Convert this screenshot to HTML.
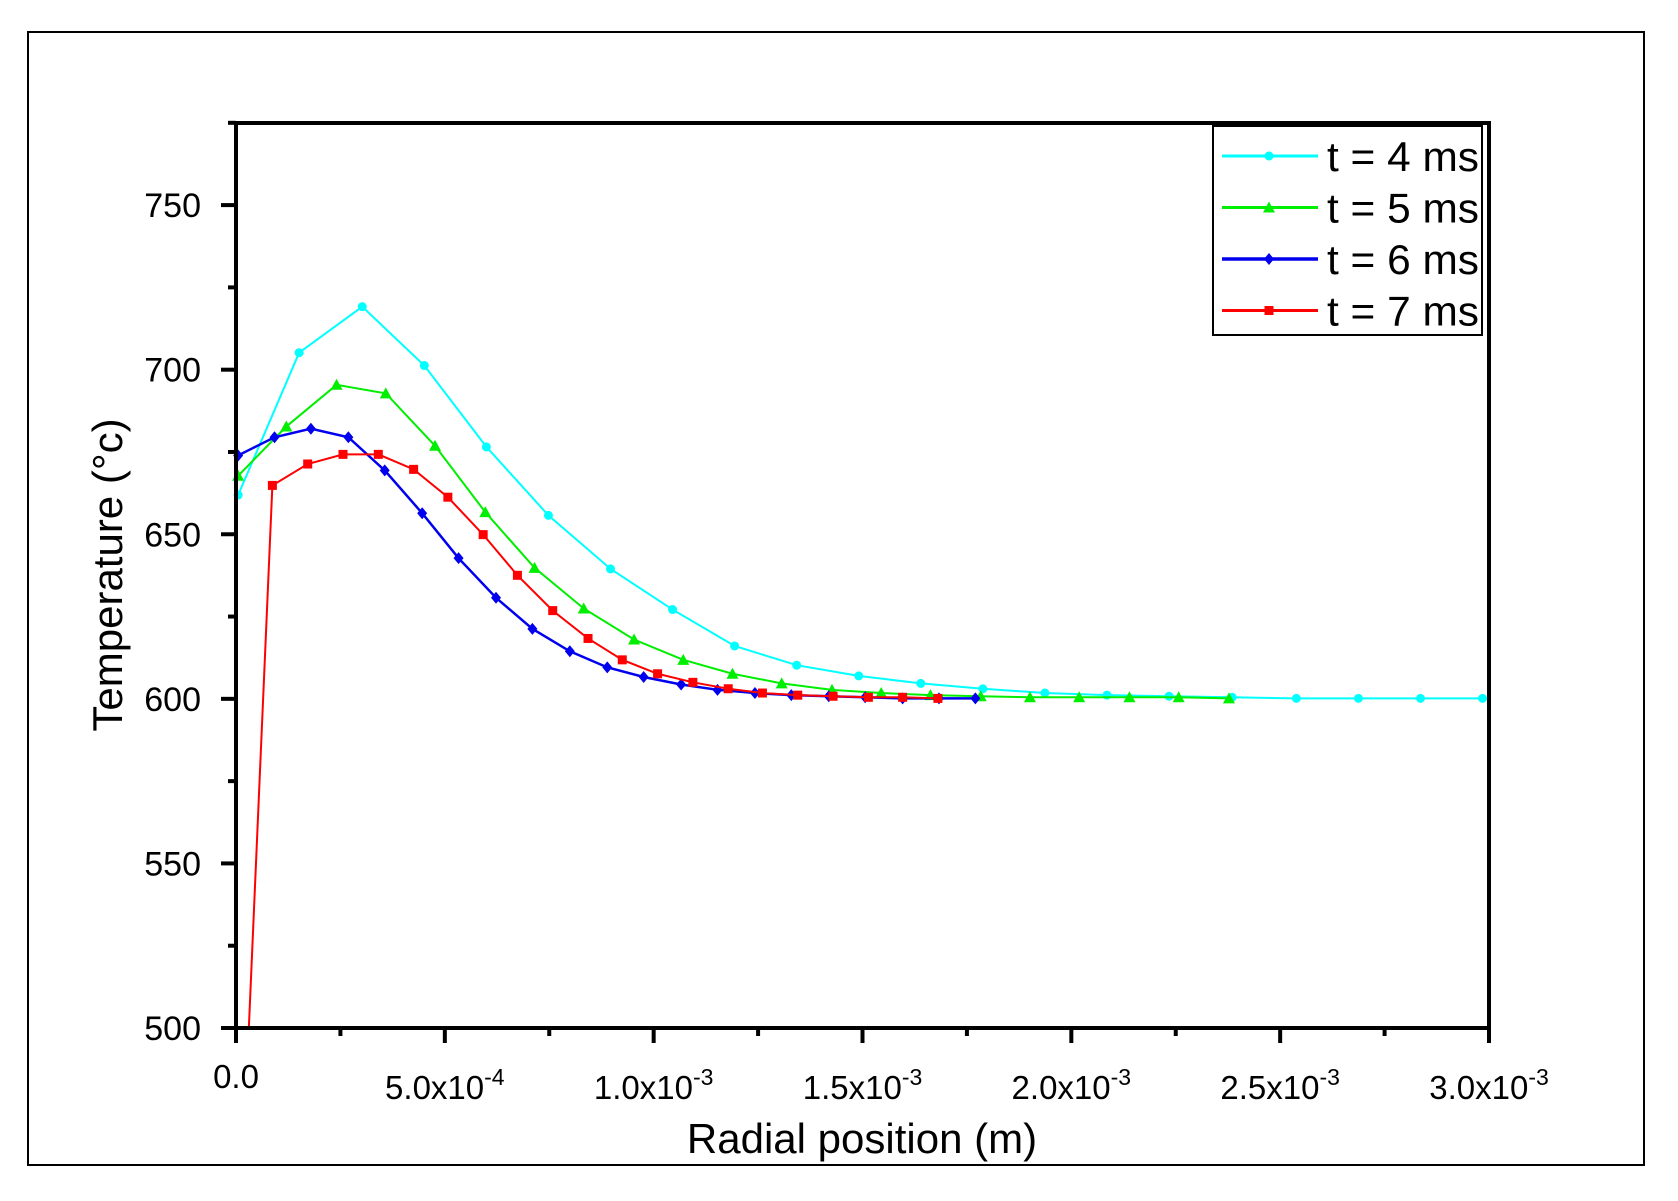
<!DOCTYPE html>
<html><head><meta charset="utf-8"><style>
html,body{margin:0;padding:0;background:#fff;}
svg{display:block;font-family:"Liberation Sans",Arial,sans-serif;}
</style></head><body>
<svg id="s" width="1678" height="1201" viewBox="0 0 1678 1201" xmlns="http://www.w3.org/2000/svg">
<rect x="0" y="0" width="1678" height="1201" fill="#fff"/>
<rect x="28" y="32" width="1616" height="1133" fill="none" stroke="#000" stroke-width="2"/>
<g id="plot"></g>
<g id="axes"></g>
<text x="862" y="1153" font-size="42" text-anchor="middle">Radial position (m)</text>
<text transform="translate(122,575) rotate(-90)" font-size="42" text-anchor="middle">Temperature (°c)</text>
<g id="legend">
<rect x="1213" y="126" width="269" height="209" fill="#fff" stroke="#000" stroke-width="2"/>
</g>
</svg>
<script>
var NS="http://www.w3.org/2000/svg";
function el(p,t,a,txt){var e=document.createElementNS(NS,t);for(var k in a)e.setAttribute(k,a[k]);if(txt!==undefined)e.textContent=txt;p.appendChild(e);return e;}
var plot=document.getElementById('plot'),axes=document.getElementById('axes'),leg=document.getElementById('legend');
function X(dx){return 236+(dx-219)*1.070;}
function Y(dy){return 1028-(960-dy)*1.0702;}
var series=[
{c:'#00ffff',m:'circle',w:2,pts:[[221,462],[278,329],[337,286],[395,341],[453,417],[511,481],[569,531],[627,569],[685,603],[743,621],[801,631],[859,638],[917,643],[975,647],[1033,649],[1091,650],[1150,651],[1210,652],[1268,652],[1326,652],[1384,652]]},
{c:'#00ee00',m:'tri',w:2,pts:[[221,444],[266,398],[313,359],[359,367],[405,416],[452,478],[498,530],[544,568],[591,597],[637,616],[683,629],[729,638],[776,644],[822,647],[868,649],[915,650],[961,651],[1007,651],[1054,651],[1100,651],[1147,652]]},
{c:'#0000ee',m:'dia',w:2.5,pts:[[221,425],[255,408],[289,400],[324,408],[358,439],[393,479],[427,521],[462,558],[496,587],[531,608],[566,623],[600,632],[635,639],[669,644],[704,647],[738,649],[773,650],[807,651],[842,652],[876,652],[910,652]]},
{c:'#ff0000',m:'sq',w:2,pts:[[231,962],[253,453],[286,433],[319,424],[352,424],[385,438],[417,464],[450,499],[482,537],[515,570],[548,596],[580,616],[613,629],[646,637],[679,643],[711,647],[744,649],[777,650],[810,651],[842,651],[875,652]]}
];
function marker(g,m,x,y,c){
 if(m=='circle')el(g,'circle',{cx:x,cy:y,r:4.5,fill:c});
 else if(m=='tri')el(g,'polygon',{points:(x-6)+','+(y+5)+' '+(x+6)+','+(y+5)+' '+x+','+(y-6),fill:c});
 else if(m=='dia')el(g,'polygon',{points:x+','+(y-6)+' '+(x+5)+','+y+' '+x+','+(y+6)+' '+(x-5)+','+y,fill:c});
 else el(g,'rect',{x:x-4.5,y:y-4.5,width:9,height:9,fill:c});
}
series.forEach(function(s){
 var p=s.pts.map(function(q){return [X(q[0]),Math.min(Y(q[1]),1028)];});
 el(plot,'polyline',{points:p.map(function(q){return q.join(',')}).join(' '),fill:'none',stroke:s.c,'stroke-width':s.w});
 p.forEach(function(q,i){if(q[1]<1027)marker(plot,s.m,q[0],q[1],s.c);});
});
el(axes,'rect',{x:236,y:123,width:1253,height:905,fill:'none',stroke:'#000','stroke-width':4});
for(var v=500;v<=775;v+=25){var y=1028-(v-500)*3.2916;var maj=(v%50==0);
 el(axes,'line',{x1:236,x2:236-(maj?15:8),y1:y,y2:y,stroke:'#000','stroke-width':4});
 if(maj)el(axes,'text',{x:201,y:y+12,'font-size':34,'text-anchor':'end'},String(v));}
for(var i=0;i<=12;i++){var x=236+i*1253/12;var maj=(i%2==0);
 el(axes,'line',{x1:x,x2:x,y1:1028,y2:1028+(maj?15:8),stroke:'#000','stroke-width':4});}
var labs=[['0.0',''],['5.0x10','-4'],['1.0x10','-3'],['1.5x10','-3'],['2.0x10','-3'],['2.5x10','-3'],['3.0x10','-3']];
labs.forEach(function(l,i){var x=236+i*1253/6;
 if(i==0){el(axes,'text',{x:x,y:1088,'font-size':33,'text-anchor':'middle'},'0.0');return;}
 var t=el(axes,'text',{x:x,y:1099,'font-size':33,'text-anchor':'middle'});
 el(t,'tspan',{},l[0]);el(t,'tspan',{dy:-14,'font-size':23},l[1]);
});
var names=['t = 4 ms','t = 5 ms','t = 6 ms','t = 7 ms'];
series.forEach(function(s,i){var y=156+i*51.5;
 el(leg,'line',{x1:1222,x2:1318,y1:y,y2:y,stroke:s.c,'stroke-width':s.w+1});
 marker(leg,s.m,1269,y,s.c);
 el(leg,'text',{x:1327,y:y+15,'font-size':42,'textLength':152,'lengthAdjust':'spacingAndGlyphs'},names[i]);
});
el(leg,'line',{x1:1489,x2:1489,y1:123,y2:340,stroke:'#000','stroke-width':4});
</script>
</body></html>
